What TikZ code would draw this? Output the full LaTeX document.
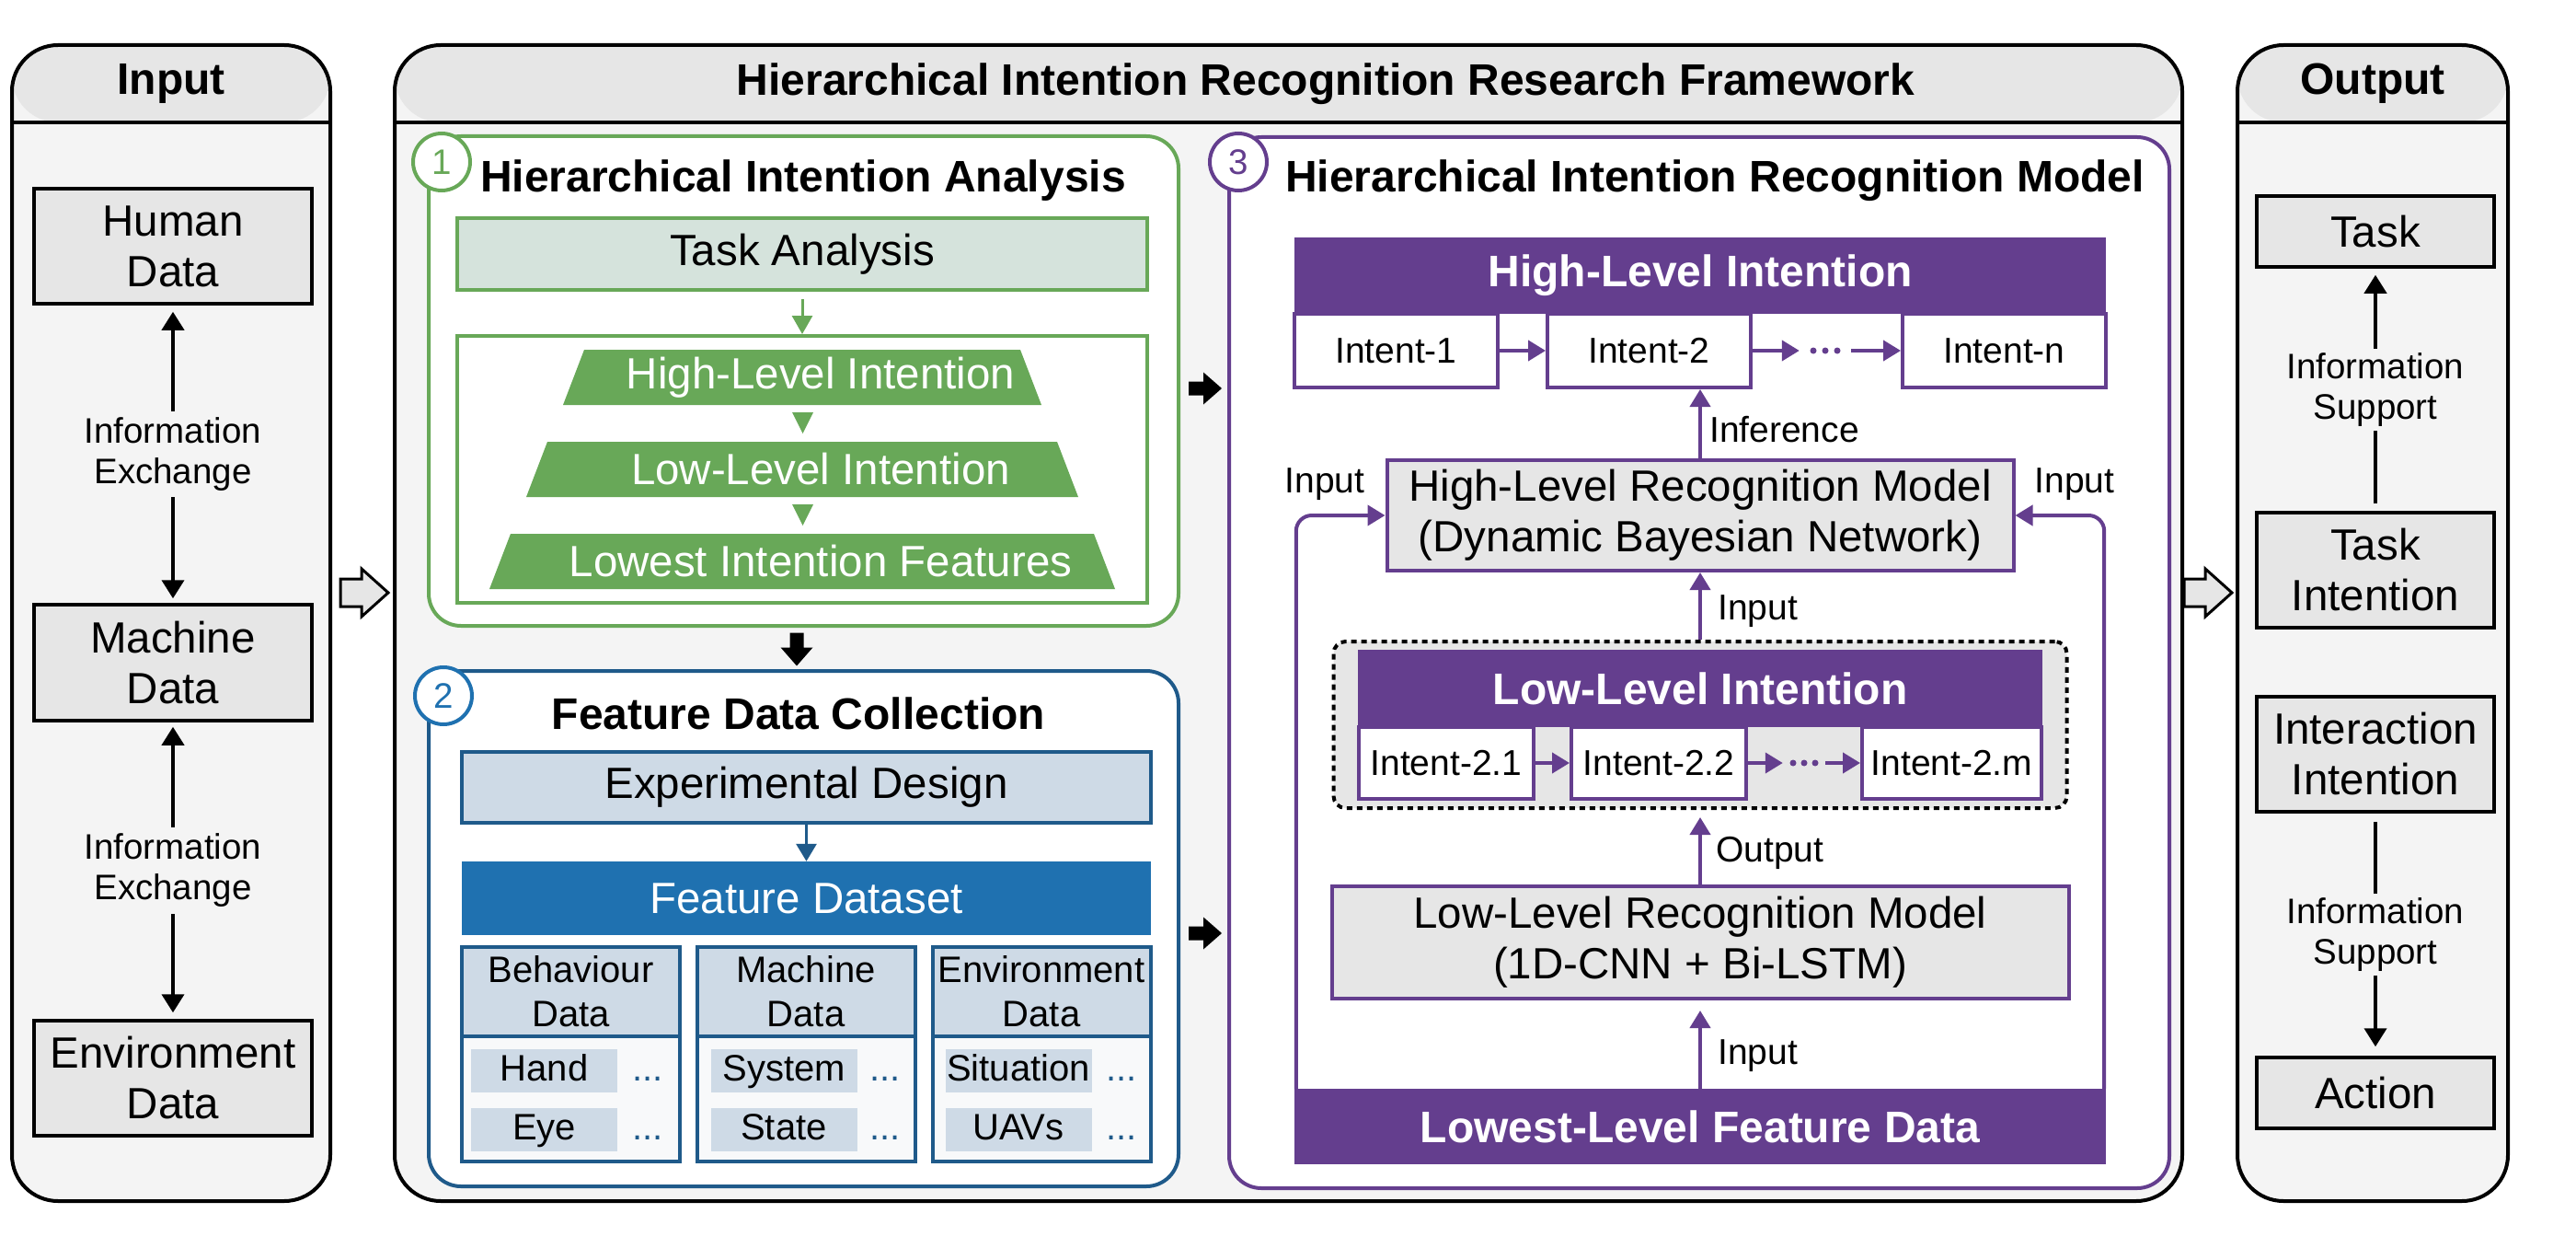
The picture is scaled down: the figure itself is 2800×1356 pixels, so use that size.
\documentclass[tikz,border=0pt]{standalone}
\usepackage{fontspec}
\setmainfont{Liberation Sans}
\usetikzlibrary{arrows.meta}
\definecolor{cpurple}{HTML}{643E8E}
\definecolor{cgreen}{HTML}{68A858}
\definecolor{cgreenlt}{HTML}{D5E3DC}
\definecolor{cblue}{HTML}{1F5A8A}
\definecolor{cbluefill}{HTML}{1F71B0}
\definecolor{cbluelt}{HTML}{CEDAE6}
\definecolor{cgray}{HTML}{E6E6E6}
\definecolor{cbody}{HTML}{F4F4F4}
\definecolor{cwhitetwo}{HTML}{F8F9FA}
\newcommand{\fbig}{\fontsize{47.5}{55}\selectfont}
\newcommand{\ftitle}{\fontsize{48}{55}\selectfont}
\newcommand{\fmid}{\fontsize{39}{45}\selectfont}
\newcommand{\fcol}{\fontsize{40}{48}\selectfont}
\newcommand{\fsml}{\fontsize{38.5}{44}\selectfont}
\tikzset{
  panel/.style={draw, line width=4pt, rounded corners=50pt, fill=cbody, inner sep=0pt,
    path picture={\fill[cgray] (path picture bounding box.north west) rectangle ([yshift=-84pt]path picture bounding box.north east);
      \draw[line width=4pt] ([yshift=-84pt]path picture bounding box.north west) -- ([yshift=-84pt]path picture bounding box.north east);}},
  title/.style={font=\ftitle\bfseries, inner sep=0pt},
  sidebox/.style={draw, line width=3.5pt, fill=cgray, inner sep=0pt, align=center, font=\fbig, minimum width=302pt},
  sidelab/.style={fill=cbody, font=\fsml, align=center, inner xsep=4pt, inner ysep=7pt},
  barr/.style={line width=4pt, -{Triangle[width=24pt,length=20pt]}},
  dbarr/.style={line width=4pt, {Triangle[width=24pt,length=20pt]}-{Triangle[width=24pt,length=20pt]}},
  sec/.style={draw, line width=4pt, rounded corners=35pt, fill=white, inner sep=0pt},
  numc/.style={circle, line width=4pt, fill=white, minimum size=62pt, inner sep=0pt, font=\fsml},
  trtext/.style={font=\fbig, text=white, inner sep=0pt},
  colh/.style={draw=cblue, line width=4pt, fill=cbluelt, minimum width=237pt, minimum height=97pt, align=center, font=\fcol, inner sep=0pt},
  colb/.style={draw=cblue, line width=4pt, fill=cwhitetwo, minimum width=237pt, minimum height=136pt, inner sep=0pt},
  item/.style={fill=cbluelt, minimum width=159pt, minimum height=47pt, font=\fcol, text height=29pt, text depth=8pt, inner sep=0pt},
  dotsn/.style={font=\fcol, text=cblue, text height=29pt, text depth=8pt, inner sep=0pt},
  phead/.style={fill=cpurple, font=\ftitle\bfseries, text=white, inner sep=0pt},
  intent/.style={draw=cpurple, line width=4pt, fill=white, font=\fmid, inner sep=0pt},
  pmodel/.style={draw=cpurple, line width=4pt, fill=cgray, font=\fbig, align=center, inner sep=0pt},
  parr/.style={draw=cpurple, line width=4pt, -{Triangle[width=22pt,length=19pt]}},
  lab/.style={font=\fmid, inner sep=0pt},
  hollowarr/.pic={\draw[line width=3pt, fill=cgray] (-26,-15) -- (-3,-15) -- (-3,-26) -- (26,0) -- (-3,26) -- (-3,15) -- (-26,15) -- cycle;},
  blockarr/.pic={\fill (-18,-7.5) -- (-2,-7.5) -- (-2,-17.5) -- (18,0) -- (-2,17.5) -- (-2,7.5) -- (-18,7.5) -- cycle;}
}
\begin{document}
\begin{tikzpicture}[x=1pt,y=-1pt]
\fill[white] (0,0) rectangle (2800,1356);
\useasboundingbox (0,0) rectangle (2800,1356);

% ---------- Input column ----------
\node[panel, minimum width=346pt, minimum height=1256pt] (inp) at (186,677) {};
\node[title] (tinp) at (186,91) {Input};
\node[sidebox, minimum height=125pt] (hd) at (188,267.5) {Human\\Data};
\node[sidebox, minimum height=126pt] (mdat) at (188,720) {Machine\\Data};
\node[sidebox, minimum height=125pt] (envd) at (188,1171.5) {Environment\\Data};
\draw[dbarr, shorten <=7pt, shorten >=5pt] (hd) -- (mdat) node[midway, sidelab] (ie1) {Information\\Exchange};
\draw[dbarr, shorten <=5pt, shorten >=7pt] (mdat) -- (envd) node[midway, sidelab] (ie2) {Information\\Exchange};

\pic at (396,644) {hollowarr};

% ---------- Middle panel ----------
\node[panel, minimum width=1943pt, minimum height=1256pt] (mid) at (1400.5,677) {};
\node[title] (tmid) at (1441,91) {Hierarchical Intention Recognition Research Framework};

% Section 1
\node[sec, draw=cgreen, minimum width=815pt, minimum height=532pt] (s1) at (873.5,414) {};
\node[numc, draw=cgreen, text=cgreen] (c1) at (480,176) {1};
\node[title] (t1) at (873,196) {Hierarchical Intention Analysis};
\node[draw=cgreen, line width=4pt, fill=cgreenlt, minimum width=750pt, minimum height=78pt, font=\fbig, inner sep=0pt] (ta) at (872,276) {Task Analysis};
\node[draw=cgreen, line width=4pt, fill=white, minimum width=750pt, minimum height=290pt, inner sep=0pt] (hier) at (872,510) {};
\draw[line width=3pt, cgreen, -{Triangle[width=22pt,length=20pt]}, shorten <=8pt] (ta) -- (hier);
\fill[cgreen] (635,380) -- (1109,380) -- (1132,440) -- (612,440) -- cycle;
\fill[cgreen] (595,480) -- (1149,480) -- (1172,540) -- (572,540) -- cycle;
\fill[cgreen] (555,580) -- (1189,580) -- (1212,640) -- (532,640) -- cycle;
\fill[cgreen] (861,448) -- (884,448) -- (872.5,471) -- cycle;
\fill[cgreen] (861,548) -- (884,548) -- (872.5,571) -- cycle;
\node[trtext] (tr1) at (892,410) {High-Level Intention};
\node[trtext] (tr2) at (892,510) {Low-Level Intention};
\node[trtext] (tr3) at (892,610) {Lowest Intention Features};

\pic[rotate=-90] at (866,705.5) {blockarr};

% Section 2
\node[sec, draw=cblue, minimum width=815pt, minimum height=560pt] (s2) at (873.5,1009) {};
\node[numc, draw=cbluefill, text=cbluefill] (c2) at (482,756) {2};
\node[title] (t2) at (868,775) {Feature Data Collection};
\node[draw=cblue, line width=4pt, fill=cbluelt, minimum width=749pt, minimum height=77pt, font=\fbig, inner sep=0pt] (expd) at (876.5,855.5) {Experimental Design};
\node[fill=cbluefill, minimum width=749pt, minimum height=80pt, font=\fbig, text=white, inner sep=0pt] (fds) at (876.5,976) {Feature Dataset};
\draw[line width=3pt, cblue, -{Triangle[width=22pt,length=19pt]}] (expd) -- (fds);

\node[colh] (h1) at (620.5,1077.5) {Behaviour\\Data};
\node[colb] (b1) at (620.5,1194) {};
\node[colh] (h2) at (876,1077.5) {Machine\\Data};
\node[colb] (b2) at (876,1194) {};
\node[colh] (h3) at (1132,1077.5) {Environment\\Data};
\node[colb] (b3) at (1132,1194) {};

\node[item] (hand) at (591.5,1163.5) {Hand};
\node[item] (eye) at (591.5,1227.5) {Eye};
\node[dotsn] (d11) at (704,1163.5) {...};
\node[dotsn] (d12) at (704,1227.5) {...};
\node[item] (sys) at (852,1163.5) {System};
\node[item] (stat) at (852,1227.5) {State};
\node[dotsn] (d21) at (962,1163.5) {...};
\node[dotsn] (d22) at (962,1227.5) {...};
\node[item] (sit) at (1107,1163.5) {Situation};
\node[item] (uav) at (1107,1227.5) {UAVs};
\node[dotsn] (d31) at (1219,1163.5) {...};
\node[dotsn] (d32) at (1219,1227.5) {...};

\pic at (1310,422) {blockarr};
\pic at (1310,1014) {blockarr};

% Section 3
\node[sec, draw=cpurple, minimum width=1022pt, minimum height=1142pt] (s3) at (1847,720) {};
\node[numc, draw=cpurple, text=cpurple] (c3) at (1346,176) {3};
\node[title] (t3) at (1864,196) {Hierarchical Intention Recognition Model};

\node[phead, minimum width=882pt, minimum height=83pt] (hli) at (1848,299.5) {High-Level Intention};
\node[intent, minimum width=221pt, minimum height=80pt] (i1) at (1517.5,381) {Intent-1};
\node[intent, minimum width=221pt, minimum height=80pt] (i2) at (1792.5,381) {Intent-2};
\node[intent, minimum width=221pt, minimum height=80pt] (in) at (2178.5,381) {Intent-n};
\node[minimum width=56pt, minimum height=10pt, inner sep=0pt] (hd1) at (1984,381) {};
\foreach \dx in {-13,0,13} \fill[cpurple] ([xshift=\dx pt]hd1.center) circle (3.5);
\draw[parr] (i1) -- (i2);
\draw[parr] (i2) -- (hd1);
\draw[parr] (hd1) -- (in);

\node[pmodel, minimum width=681pt, minimum height=120pt] (hlrm) at (1848,560) {High-Level Recognition Model\\(Dynamic Bayesian Network)};
\draw[parr] (hlrm) -- (i2.south -| hlrm.north);
\node[lab, anchor=west] (linf) at (1858,467) {Inference};

\node[draw, dash pattern=on 6pt off 5pt, line width=4pt, rounded corners=13pt, fill=cgray, minimum width=797pt, minimum height=181pt, inner sep=0pt] (dbox) at (1848,787.5) {};
\node[phead, minimum width=744pt, minimum height=84pt] (lli) at (1848,748) {Low-Level Intention};
\node[intent, minimum width=190pt, minimum height=78pt] (j1) at (1572,829) {Intent-2.1};
\node[intent, minimum width=190pt, minimum height=78pt] (j2) at (1803,829) {Intent-2.2};
\node[intent, minimum width=195pt, minimum height=78pt] (jm) at (2121.5,829) {Intent-2.m};
\node[minimum width=46pt, minimum height=10pt, inner sep=0pt] (hd2) at (1961,829) {};
\foreach \dx in {-12,0,12} \fill[cpurple] ([xshift=\dx pt]hd2.center) circle (3.5);
\draw[parr] (j1) -- (j2);
\draw[parr] (j2) -- (hd2);
\draw[parr] (hd2) -- (jm);

\draw[parr] (dbox) -- (hlrm);
\node[lab, anchor=west] (lin1) at (1867,664) {Input};

\node[pmodel, minimum width=801pt, minimum height=122pt] (llrm) at (1848,1024) {Low-Level Recognition Model\\(1D-CNN + Bi-LSTM)};
\draw[parr, shorten >=8pt] (llrm) -- (dbox);
\node[lab, anchor=west] (lout) at (1865,927) {Output};

\node[phead, minimum width=882pt, minimum height=82pt] (lf) at (1848,1224) {Lowest-Level Feature Data};
\draw[parr, shorten >=11pt] (lf) -- (llrm);
\node[lab, anchor=west] (lin2) at (1867,1147) {Input};

\draw[parr, rounded corners=17pt] ([xshift=2pt]lf.north west) |- (hlrm.west);
\draw[parr, rounded corners=17pt] ([xshift=-2pt]lf.north east) |- (hlrm.east);
\node[lab] (linl) at (1440,526) {Input};
\node[lab] (linr) at (2255,526) {Input};

\pic at (2400,644) {hollowarr};

% ---------- Output column ----------
\node[panel, minimum width=294pt, minimum height=1256pt] (outp) at (2579,677) {};
\node[title] (tout) at (2579,91) {Output};
\node[sidebox, minimum width=258pt, minimum height=77pt] (task) at (2582,251.5) {Task};
\node[sidebox, minimum width=258pt, minimum height=125pt] (ti) at (2582,619.5) {Task\\Intention};
\node[sidebox, minimum width=258pt, minimum height=125pt] (ii) at (2582,819.5) {Interaction\\Intention};
\node[sidebox, minimum width=258pt, minimum height=77pt] (act) at (2582,1187.5) {Action};
\draw[barr, shorten <=8pt, shorten >=7pt] (ti) -- (task) node[midway, sidelab, inner ysep=5pt] (is1) {Information\\Support};
\draw[barr, shorten <=9pt, shorten >=10pt] (ii) -- (act) node[midway, sidelab, inner ysep=5pt] (is2) {Information\\Support};
\end{tikzpicture}
\end{document}
